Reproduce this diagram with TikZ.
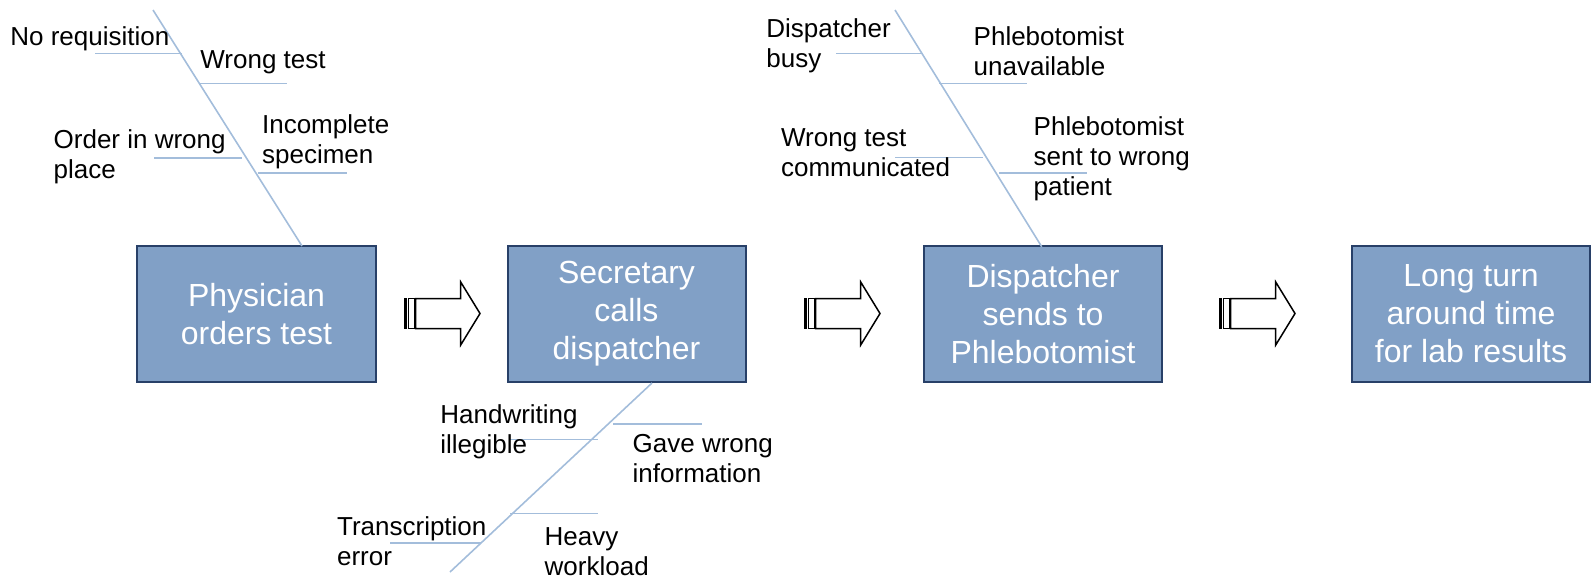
\documentclass[tikz,border=0pt]{standalone}
\usepackage{fontspec}
\setmainfont{Liberation Sans}
\definecolor{boxfill}{RGB}{129,160,198}
\definecolor{boxline}{RGB}{40,64,104}
\definecolor{bonecol}{RGB}{163,189,219}
\tikzset{
  box/.style={draw=boxline, line width=1pt, fill=boxfill, text=white, align=center,
    font=\fontsize{16pt}{19pt}\selectfont, minimum width=119pt, minimum height=68pt, inner sep=0pt},
  lbl/.style={anchor=base west, align=left, inner sep=0pt, font=\fontsize{13pt}{15pt}\selectfont},
  bone/.style={draw=bonecol, line width=0.8pt},
  arr/.style={draw=black, line width=0.75pt, fill=white},
  striparrow/.pic={
    \filldraw[arr] (0,-15) rectangle (1.5,15);
    \filldraw[arr] (3.5,-15) rectangle (9.5,15);
    \filldraw[arr] (10.5,-15) -- (55.7,-15) -- (55.7,-31.5) -- (75,0) -- (55.7,31.5) -- (55.7,15) -- (10.5,15) -- cycle;
  }
}
\begin{document}
\begin{tikzpicture}[x=0.5pt,y=-0.5pt]
\useasboundingbox (0,0) rectangle (1591,580);
% boxes
\node[box, minimum width=119.5pt] (b1) at (256.5,314) {Physician\\orders test};
\node[box] (b2) at (626.5,314) {Secretary\\calls\\dispatcher};
\node[box] (b3) at (1043,314) {Dispatcher\\sends to\\Phlebotomist};
\node[box] (b4) at (1471,314) {Long turn\\around time\\for lab results};
% arrows
\pic at (405,313.5) {striparrow};
\pic at (805,313.5) {striparrow};
\pic at (1220,313.5) {striparrow};
% fishbone 1
\draw[bone] (153,10) -- (302,246);
\draw[bone] (95,53.3) -- (181.7,53.3);
\draw[bone] (199,83.3) -- (287,83.3);
\draw[bone] (154,157.7) -- (241.7,157.7);
\draw[bone] (257.7,172.7) -- (346.7,172.7);
\node[lbl] (n1) at (10,45) {No requisition};
\node[lbl] (n2) at (200,68.3) {Wrong test};
\node[lbl] (n3) at (53.3,178.3) {Order in wrong\\place};
\node[lbl] (n4) at (261.7,163.3) {Incomplete\\specimen};
% fishbone 2
\draw[bone] (652,383) -- (450,572);
\draw[bone] (510,439.3) -- (597.7,439.3);
\draw[bone] (613.3,424) -- (701.7,424);
\draw[bone] (510,513.3) -- (597.7,513.3);
\draw[bone] (390,542.7) -- (481,542.7);
\node[lbl] (m1) at (440,453.3) {Handwriting\\illegible};
\node[lbl] (m2) at (632.3,482.7) {Gave wrong\\information};
\node[lbl] (m3) at (544.3,575) {Heavy\\workload};
\node[lbl] (m4) at (336.7,565) {Transcription\\error};
% fishbone 3
\draw[bone] (895,10) -- (1041.7,246.7);
\draw[bone] (836,53.3) -- (922.7,53.3);
\draw[bone] (939.3,83.3) -- (1027.3,83.3);
\draw[bone] (895,157.3) -- (982.7,157.3);
\draw[bone] (999.3,172.7) -- (1086.7,172.7);
\node[lbl] (k1) at (766,67.3) {Dispatcher\\busy};
\node[lbl] (k2) at (973.3,75) {Phlebotomist\\unavailable};
\node[lbl] (k3) at (780.7,176.7) {Wrong test\\communicated};
\node[lbl] (k4) at (1033.3,195) {Phlebotomist\\sent to wrong\\patient};
\end{tikzpicture}
\end{document}
